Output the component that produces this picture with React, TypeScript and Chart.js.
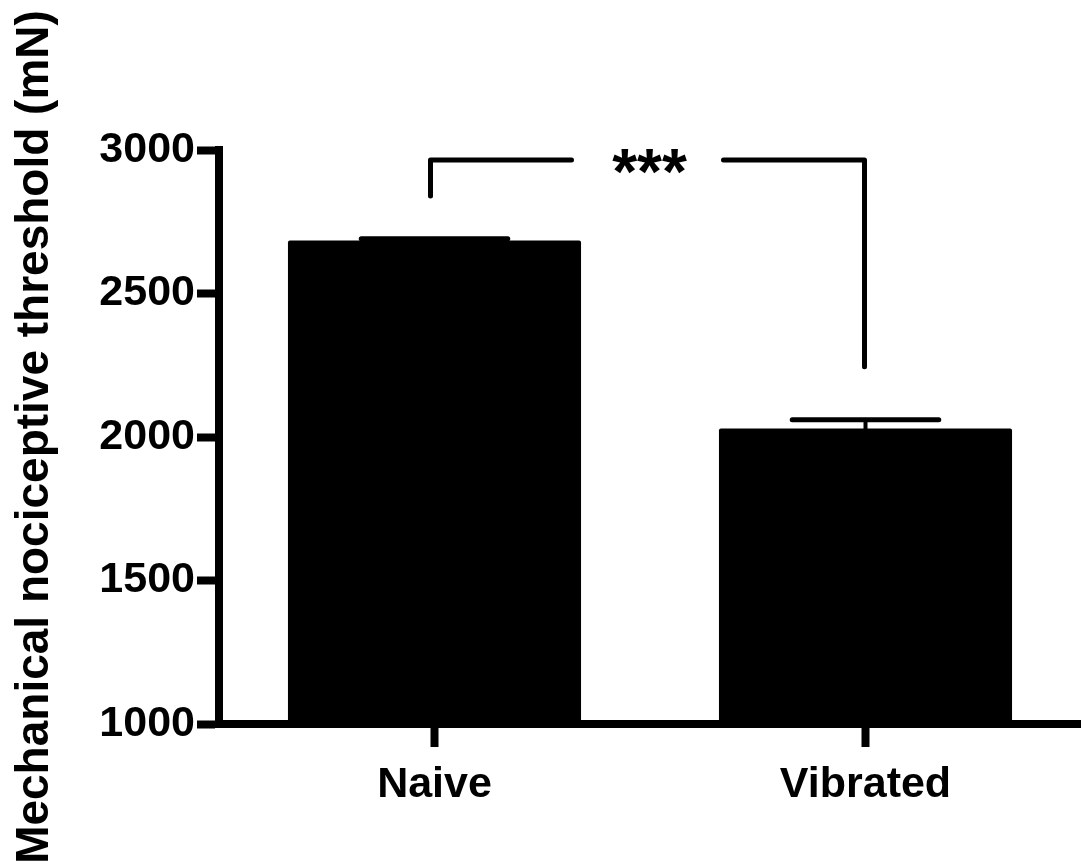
import React, { useEffect, useRef } from "react";
import { Chart, registerables } from "chart.js";

Chart.register(...registerables);

const categories = ["Naive", "Vibrated"];
const means = [2685, 2030];
const sems = [6, 30];
const yTicks = [1000, 1500, 2000, 2500, 3000];
const yTitle = "Mechanical nociceptive threshold (mN)";
const sigLabel = "***";
// bracket: top level, left leg end, right leg end (data units)
const bracketTop = 2965;
const bracketLegEnds = [2840, 2245];

const FONT = "'Liberation Sans', Arial, Helvetica, sans-serif";

const overlayPlugin = {
  id: "overlay",
  afterDatasetsDraw(chart: any) {
    const { ctx } = chart;
    const x = chart.scales.x;
    const y = chart.scales.y;
    const meta = chart.getDatasetMeta(0);
    ctx.save();
    ctx.strokeStyle = "#000";
    ctx.lineCap = "round";
    // error bars
    means.forEach((m, i) => {
      const bar = meta.data[i];
      const cx = x.getPixelForValue(i);
      const half = bar.width / 4;
      const yTop = y.getPixelForValue(m + sems[i]);
      const yBase = y.getPixelForValue(m);
      ctx.lineWidth = 4;
      ctx.beginPath();
      ctx.moveTo(cx, yBase);
      ctx.lineTo(cx, yTop);
      ctx.stroke();
      ctx.lineWidth = 5;
      ctx.beginPath();
      ctx.moveTo(cx - half, yTop);
      ctx.lineTo(cx + half, yTop);
      ctx.stroke();
    });
    // significance bracket
    const x0 = x.getPixelForValue(0) - 4;
    const x1 = x.getPixelForValue(1) - 1;
    const yb = y.getPixelForValue(bracketTop);
    const mid = (x0 + x1) / 2;
    const gap = 76;
    ctx.lineWidth = 5;
    ctx.lineJoin = "round";
    ctx.beginPath();
    ctx.moveTo(x0, y.getPixelForValue(bracketLegEnds[0]));
    ctx.lineTo(x0, yb);
    ctx.lineTo(mid - gap, yb);
    ctx.stroke();
    ctx.beginPath();
    ctx.moveTo(mid + gap, yb);
    ctx.lineTo(x1, yb);
    ctx.lineTo(x1, y.getPixelForValue(bracketLegEnds[1]));
    ctx.stroke();
    ctx.fillStyle = "#000";
    ctx.font = `bold 64px ${FONT}`;
    ctx.textAlign = "center";
    ctx.textBaseline = "middle";
    ctx.fillText(sigLabel, mid + 2, yb + 16);
    ctx.restore();
  },
};

export default function App() {
  const ref = useRef<HTMLCanvasElement>(null);
  useEffect(() => {
    document.body.style.margin = "0";
    const chart = new Chart(ref.current!, {
      type: "bar",
      data: {
        labels: categories,
        datasets: [
          {
            data: means,
            backgroundColor: "#000",
            borderWidth: 0,
            borderRadius: 2,
            borderSkipped: "bottom",
            categoryPercentage: 1,
            barPercentage: 0.68,
          },
        ],
      },
      options: {
        animation: false,
        responsive: true,
        maintainAspectRatio: false,
        layout: { padding: { top: 150, right: 0, left: 0, bottom: 0 } },
        plugins: { legend: { display: false }, tooltip: { enabled: false } },
        scales: {
          x: {
            offset: true,
            grid: {
              display: true,
              offset: false,
              drawOnChartArea: false,
              tickLength: 23,
              tickWidth: 8,
              tickColor: "#000",
            },
            border: { display: true, color: "#000", width: 8 },
            ticks: {
              color: "#000",
              padding: 12,
              font: { family: FONT, size: 43, weight: "bold" },
              maxRotation: 0,
            },
            afterFit(scale: any) {
              scale.height = 143;
            },
          },
          y: {
            min: 1000,
            max: 3000,
            afterBuildTicks(scale: any) {
              scale.ticks = yTicks.map((v) => ({ value: v }));
            },
            grid: {
              display: true,
              drawOnChartArea: false,
              tickLength: 22,
              tickWidth: 8,
              tickColor: "#000",
            },
            border: { display: true, color: "#000", width: 8 },
            ticks: {
              color: "#000",
              padding: 2,
              font: { family: FONT, size: 43, weight: "bold" },
              callback: (v: any) => String(v),
            },
            title: {
              display: true,
              text: yTitle,
              color: "#000",
              padding: { top: 8, bottom: 0 },
              font: { family: FONT, size: 46, weight: "bold" },
            },
            afterFit(scale: any) {
              scale.width = 219;
            },
          },
        },
      },
      plugins: [overlayPlugin],
    });
    return () => chart.destroy();
  }, []);
  return (
    <div style={{ position: "fixed", left: 0, top: 0, width: 1081, height: 867, background: "#fff" }}>
      <canvas ref={ref} />
    </div>
  );
}
